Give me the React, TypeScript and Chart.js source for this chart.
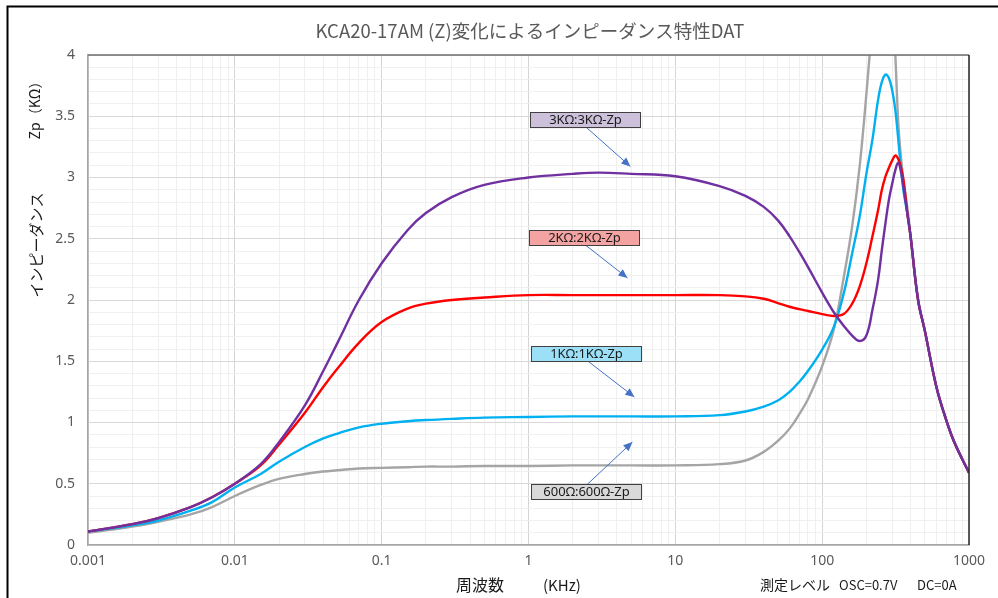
import React, { useEffect, useRef } from "react";
import { Chart, registerables } from "chart.js";

Chart.register(...registerables);

// ---- data (frequency in kHz, impedance Zp in kΩ) ----
const freqKHz = [
  0.001, 0.002, 0.003, 0.005, 0.007, 0.01, 0.015, 0.02, 0.03, 0.04, 0.05, 0.07,
  0.1, 0.15, 0.2, 0.3, 0.5, 1, 2, 3, 5, 10, 20, 30, 40, 50, 60, 70, 80, 100,
  120, 140, 160, 180, 200, 220, 240, 255, 270, 285, 300, 315, 330, 345, 360,
  380, 400, 450, 500, 600, 700, 800, 1000,
];

const zp3k = [
  0.11, 0.17, 0.22, 0.31, 0.39, 0.5, 0.66, 0.84, 1.14, 1.42, 1.65, 2.0,
  2.3, 2.57, 2.71, 2.84, 2.94, 3.0, 3.03, 3.04, 3.03, 3.01, 2.93, 2.85, 2.76, 2.65, 2.52, 2.39, 2.27, 2.06,
  1.9, 1.79, 1.71, 1.665, 1.71, 1.92, 2.16, 2.41, 2.63, 2.82, 2.95, 3.06, 3.12, 3.04, 2.9,
  2.71, 2.52, 2.0, 1.75, 1.29, 1.02, 0.83, 0.59,
];

const zp2k = [
  0.11, 0.17, 0.22, 0.31, 0.39, 0.5, 0.65, 0.82, 1.08, 1.29, 1.44, 1.65,
  1.82, 1.93, 1.97, 2.0, 2.02, 2.04, 2.04, 2.04, 2.04, 2.04, 2.04, 2.03, 2.01, 1.975, 1.945, 1.925, 1.91, 1.885,
  1.87, 1.885, 1.97, 2.11, 2.3, 2.52, 2.73, 2.9, 3.01, 3.08, 3.14, 3.18, 3.15, 3.08, 2.96,
  2.71, 2.52, 2.0, 1.75, 1.29, 1.02, 0.83, 0.59,
];

const zp1k = [
  0.11, 0.16, 0.2, 0.28, 0.35, 0.47, 0.58, 0.68, 0.8, 0.87, 0.91, 0.96,
  0.99, 1.01, 1.02, 1.03, 1.04, 1.045, 1.05, 1.05, 1.05, 1.05, 1.06, 1.09, 1.13, 1.18, 1.25, 1.333, 1.42, 1.595,
  1.78, 2.05, 2.38, 2.68, 3.03, 3.31, 3.63, 3.78, 3.84, 3.81, 3.71, 3.55, 3.31, 3.06, 2.87,
  2.71, 2.52, 2.0, 1.75, 1.29, 1.02, 0.83, 0.59,
];

const zp600 = [
  0.1, 0.15, 0.19, 0.25, 0.31, 0.4, 0.49, 0.54, 0.58, 0.6, 0.61, 0.625,
  0.63, 0.635, 0.64, 0.64, 0.645, 0.645, 0.65, 0.65, 0.65, 0.65, 0.66, 0.69, 0.76, 0.85, 0.95, 1.07, 1.19, 1.46,
  1.76, 2.18, 2.6, 3.09, 3.68, 4.3, 5.0, 5.3, 5.2, 4.9, 4.5, 4.0, 3.44, 3.15, 2.95,
  2.76, 2.52, 2.0, 1.75, 1.29, 1.02, 0.83, 0.59,
];

const seriesNames = ["3KΩ:3KΩ-Zp", "2KΩ:2KΩ-Zp", "1KΩ:1KΩ-Zp", "600Ω:600Ω-Zp"];
const xDecades = [0.001, 0.01, 0.1, 1, 10, 100, 1000];
const xTickLabels = ["0.001", "0.01", "0.1", "1", "10", "100", "1000"];
const yTickLabels = ["0", "0.5", "1", "1.5", "2", "2.5", "3", "3.5", "4"];

const titleText = "KCA20-17AM (Z)変化によるインピーダンス特性DAT";
const yTitleTop = "Zp（KΩ）";
const yTitleMain = "インピーダンス";
const xTitleMain = "周波数";
const xTitleUnit = "(KHz)";
const noteMain = "測定レベル";
const noteOsc = "OSC=0.7V";
const noteDc = "DC=0A";

// callout labels: box centre and arrow tip in data coordinates (kHz, kΩ)
const callouts = [
  { text: seriesNames[0], fill: "#ccc0da", box: [2.44, 3.47], tip: [4.94, 3.09] },
  { text: seriesNames[1], fill: "#f4a3a3", box: [2.38, 2.514], tip: [4.72, 2.18] },
  { text: seriesNames[2], fill: "#9be0f7", box: [2.47, 1.567], tip: [5.26, 1.208] },
  { text: seriesNames[3], fill: "#d9d9d9", box: [2.47, 0.433], tip: [5.1, 0.84] },
];

const isDecade = (v: number) => Math.abs(Math.log10(v) - Math.round(Math.log10(v))) < 1e-6;

const decorPlugin = {
  id: "decor",
  afterDatasetsDraw(chart: any) {
    const { ctx, chartArea, scales } = chart;
    const xs = scales.x;
    const ys = scales.y;
    ctx.save();
    // plot frame top / right
    ctx.lineWidth = 1.5;
    ctx.strokeStyle = "#6e6e6e";
    ctx.beginPath();
    ctx.moveTo(chartArea.left, chartArea.top);
    ctx.lineTo(chartArea.right, chartArea.top);
    ctx.stroke();
    ctx.strokeStyle = "#262626";
    ctx.beginPath();
    ctx.moveTo(chartArea.right, chartArea.top);
    ctx.lineTo(chartArea.right, chartArea.bottom);
    ctx.stroke();

    // callouts
    const bw = 110;
    const bh = 15;
    callouts.forEach((c) => {
      const cx = xs.getPixelForValue(c.box[0]);
      const cy = ys.getPixelForValue(c.box[1]);
      const tx = xs.getPixelForValue(c.tip[0]);
      const ty = ys.getPixelForValue(c.tip[1]);
      const sy = ty > cy ? cy + bh / 2 : cy - bh / 2;
      const sx = cx + 1;
      // arrow
      ctx.strokeStyle = "#4472c4";
      ctx.fillStyle = "#4472c4";
      ctx.lineWidth = 1;
      ctx.beginPath();
      ctx.moveTo(sx, sy);
      ctx.lineTo(tx, ty);
      ctx.stroke();
      const ang = Math.atan2(ty - sy, tx - sx);
      const L = 9;
      const W = 4;
      ctx.beginPath();
      ctx.moveTo(tx, ty);
      ctx.lineTo(tx - L * Math.cos(ang) + W * Math.sin(ang), ty - L * Math.sin(ang) - W * Math.cos(ang));
      ctx.lineTo(tx - L * Math.cos(ang) - W * Math.sin(ang), ty - L * Math.sin(ang) + W * Math.cos(ang));
      ctx.closePath();
      ctx.fill();
      // box
      const bx = Math.round(cx - bw / 2) + 0.5;
      const by = Math.round(cy - bh / 2) + 0.5;
      ctx.fillStyle = c.fill;
      ctx.fillRect(bx, by, bw, bh);
      ctx.strokeStyle = "#404040";
      ctx.lineWidth = 1;
      ctx.strokeRect(bx, by, bw, bh);
      ctx.fillStyle = "#1a1a1a";
      ctx.font = '13px "Noto Sans"';
      ctx.textAlign = "center";
      ctx.textBaseline = "middle";
      ctx.fillText(c.text, bx + bw / 2, by + bh / 2 + 0.5);
    });
    ctx.restore();
  },
  afterDraw(chart: any) {
    const { ctx } = chart;
    ctx.save();
    // outer frame
    ctx.strokeStyle = "#000000";
    ctx.lineWidth = 2;
    ctx.strokeRect(7.5, 6.5, 1200, 800);

    // title
    ctx.fillStyle = "#595959";
    ctx.font = '18.5px "Noto Sans CJK JP"';
    ctx.textAlign = "center";
    ctx.textBaseline = "middle";
    ctx.fillText(titleText, 530, 31);

    // y-axis titles (rotated)
    ctx.fillStyle = "#1a1a1a";
    ctx.save();
    ctx.translate(35, 107);
    ctx.rotate(-Math.PI / 2);
    ctx.font = '14px "Noto Sans CJK JP"';
    ctx.fillText(yTitleTop, 0, 0);
    ctx.restore();
    ctx.save();
    ctx.translate(36, 245);
    ctx.rotate(-Math.PI / 2);
    ctx.font = '15px "Noto Sans CJK JP"';
    ctx.fillText(yTitleMain, 0, 0);
    ctx.restore();

    // x-axis title and note
    ctx.textAlign = "left";
    ctx.font = '16px "Noto Sans CJK JP"';
    ctx.fillText(xTitleMain, 456, 585);
    ctx.font = '15px "Noto Sans CJK JP"';
    ctx.fillText(xTitleUnit, 543, 585);
    ctx.font = '14px "Noto Sans CJK JP"';
    ctx.fillText(noteMain, 760, 585);
    ctx.font = '13px "Noto Sans CJK JP"';
    ctx.fillText(noteOsc, 839, 585);
    ctx.fillText(noteDc, 917, 585);
    ctx.restore();
  },
};

export default function App() {
  const canvasRef = useRef<HTMLCanvasElement | null>(null);

  useEffect(() => {
    const canvas = canvasRef.current;
    if (!canvas) return;
    const mk = (vals: number[]) => freqKHz.map((f, i) => ({ x: f, y: vals[i] }));
    const ds = (label: string, vals: number[], color: string) => ({
      label,
      data: mk(vals),
      borderColor: color,
      backgroundColor: color,
      borderWidth: 2.4,
      pointRadius: 0,
      fill: false,
      tension: 0.4,
    });
    const chart = new Chart(canvas, {
      type: "line",
      data: {
        datasets: [
          ds(seriesNames[0], zp3k, "#7030a0"),
          ds(seriesNames[1], zp2k, "#ff0000"),
          ds(seriesNames[2], zp1k, "#00b0f0"),
          ds(seriesNames[3], zp600, "#a5a5a5"),
        ],
      },
      options: {
        responsive: false,
        animation: false,
        devicePixelRatio: 1,
        layout: { padding: { left: 0, right: 29, top: 55, bottom: 0 } },
        plugins: {
          legend: { display: false },
          tooltip: { enabled: false },
          title: { display: false },
        },
        scales: {
          x: {
            type: "logarithmic",
            min: 0.001,
            max: 1000,
            afterFit: (s: any) => {
              s.height = 53;
            },
            afterBuildTicks: (s: any) => {
              const t: any[] = [];
              xDecades.forEach((d, di) => {
                if (di === xDecades.length - 1) {
                  t.push({ value: d });
                  return;
                }
                for (let k = 1; k <= 9; k++) t.push({ value: d * k });
              });
              s.ticks = t;
            },
            ticks: {
              autoSkip: false,
              maxRotation: 0,
              padding: 8,
              color: "#595959",
              font: { family: "Noto Sans", size: 14 },
              callback: (v: any) => {
                const idx = xDecades.findIndex((d) => Math.abs(d - Number(v)) / d < 1e-6);
                return idx >= 0 ? xTickLabels[idx] : "";
              },
            },
            grid: {
              drawTicks: false,
              color: (c: any) => (c.tick && isDecade(c.tick.value) ? "#d4d4d4" : "#efefef"),
              lineWidth: 1,
            },
            border: { color: "#a6a6a6", width: 1.5 },
          },
          y: {
            type: "linear",
            min: 0,
            max: 4,
            afterFit: (s: any) => {
              s.width = 88;
            },
            afterBuildTicks: (s: any) => {
              const t: any[] = [];
              for (let i = 0; i <= 40; i++) t.push({ value: i / 10 });
              s.ticks = t;
            },
            ticks: {
              autoSkip: false,
              padding: 13,
              color: "#595959",
              font: { family: "Noto Sans", size: 14 },
              callback: (v: any) => {
                const n = Number(v) * 2;
                if (Math.abs(n - Math.round(n)) < 1e-6) return yTickLabels[Math.round(n)];
                return "";
              },
            },
            grid: {
              drawTicks: false,
              color: (c: any) => {
                const n = c.tick ? c.tick.value * 2 : 0.5;
                return Math.abs(n - Math.round(n)) < 1e-6 ? "#d9d9d9" : "#f0f0f0";
              },
              lineWidth: 1,
            },
            border: { color: "#a6a6a6", width: 1.5 },
          },
        },
      },
      plugins: [decorPlugin],
    });
    return () => chart.destroy();
  }, []);

  return (
    <div style={{ position: "absolute", left: 0, top: 0, width: 998, height: 598, background: "#ffffff" }}>
      <canvas ref={canvasRef} width={998} height={598} style={{ display: "block" }} />
    </div>
  );
}
